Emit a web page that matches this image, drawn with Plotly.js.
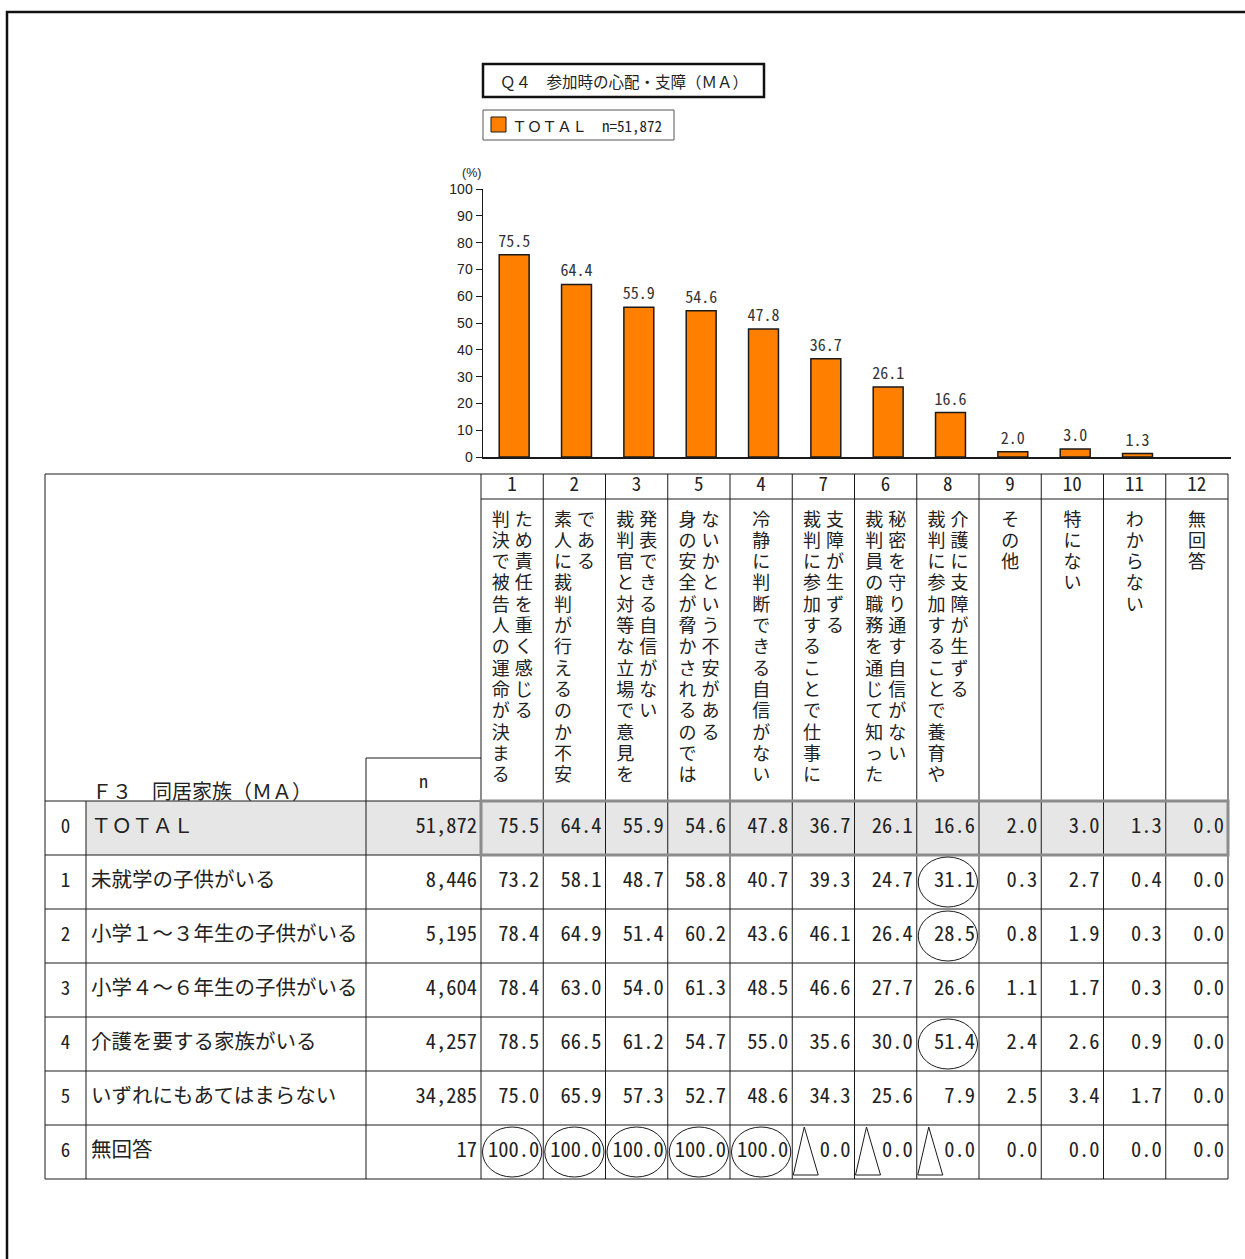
<!DOCTYPE html>
<html>
<head>
<meta charset="utf-8">
<script src="https://cdn.plot.ly/plotly-3.0.1.min.js"></script>
<style>
  html, body { margin: 0; padding: 0; background: #fff; }
  #chart { width: 1245px; height: 1259px; }
</style>
</head>
<body>
<div id="chart"></div>
<script>
// ---- Data -------------------------------------------------------------
const chartTitle = 'Ｑ４　参加時の心配・支障（ＭＡ）';
const seriesName = 'ＴＯＴＡＬ';
const crossTitle = 'Ｆ３　同居家族（ＭＡ）';

// response columns, ordered by TOTAL share
const colNumbers = ['1', '2', '3', '5', '4', '7', '6', '8', '9', '10', '11', '12'];
const colHeaders = [
  ['判決で被告人の運命が決まる', 'ため責任を重く感じる'],
  ['素人に裁判が行えるのか不安', 'である'],
  ['裁判官と対等な立場で意見を', '発表できる自信がない'],
  ['身の安全が脅かされるのでは', 'ないかという不安がある'],
  ['冷静に判断できる自信がない'],
  ['裁判に参加することで仕事に', '支障が生ずる'],
  ['裁判員の職務を通じて知った', '秘密を守り通す自信がない'],
  ['裁判に参加することで養育や', '介護に支障が生ずる'],
  ['その他'],
  ['特にない'],
  ['わからない'],
  ['無回答']
];
const totalValues = [75.5, 64.4, 55.9, 54.6, 47.8, 36.7, 26.1, 16.6, 2.0, 3.0, 1.3, 0.0];
const totalN = '51,872';

// cross-tab rows (F3)
const groupLabels = [
  '未就学の子供がいる',
  '小学１～３年生の子供がいる',
  '小学４～６年生の子供がいる',
  '介護を要する家族がいる',
  'いずれにもあてはまらない',
  '無回答'
];
const groupN = ['8,446', '5,195', '4,604', '4,257', '34,285', '17'];
const groupValues = [
  [73.2, 58.1, 48.7, 58.8, 40.7, 39.3, 24.7, 31.1, 0.3, 2.7, 0.4, 0.0],
  [78.4, 64.9, 51.4, 60.2, 43.6, 46.1, 26.4, 28.5, 0.8, 1.9, 0.3, 0.0],
  [78.4, 63.0, 54.0, 61.3, 48.5, 46.6, 27.7, 26.6, 1.1, 1.7, 0.3, 0.0],
  [78.5, 66.5, 61.2, 54.7, 55.0, 35.6, 30.0, 51.4, 2.4, 2.6, 0.9, 0.0],
  [75.0, 65.9, 57.3, 52.7, 48.6, 34.3, 25.6, 7.9, 2.5, 3.4, 1.7, 0.0],
  [100.0, 100.0, 100.0, 100.0, 100.0, 0.0, 0.0, 0.0, 0.0, 0.0, 0.0, 0.0]
];
// 'o' = notably above TOTAL, '^' = notably below TOTAL
const groupMarks = [
  ['', '', '', '', '', '', '', 'o', '', '', '', ''],
  ['', '', '', '', '', '', '', 'o', '', '', '', ''],
  ['', '', '', '', '', '', '', '', '', '', '', ''],
  ['', '', '', '', '', '', '', 'o', '', '', '', ''],
  ['', '', '', '', '', '', '', '', '', '', '', ''],
  ['o', 'o', 'o', 'o', 'o', '^', '^', '^', '', '', '', '']
];

// ---- Styling / geometry ------------------------------------------------
const W = 1245, H = 1259;
const FONT_JP = '"Noto Sans CJK JP", "Noto Sans", sans-serif';
const FONT_MONO = '"Noto Sans Mono CJK JP", "Noto Sans CJK JP", "Liberation Mono", monospace';
const FONT_TICK = '"Liberation Sans", Arial, sans-serif';
const ORANGE = '#FF8000';
const INK = '#1a1a1a';
const TXT = '#222';

// bar chart plot area (px)
const AX_L = 483, AX_R = 1231, AX_B = 457, AX_T = 189;
// table geometry (px)
const TB_L = 45, TB_R = 1228, COL_NUM_R = 86, COL_LAB_R = 366, COL_DATA_L = 481;
const NCOL = colNumbers.length;
const COL_W = (TB_R - COL_DATA_L) / NCOL;
const TB_TOP = 474, NUMROW_B = 499, NBOX_T = 758, BODY_T = 801, ROW_H = 54;
const HEAD_CHAR0 = 521, CHAR_PITCH = 21.3, LINE_GAP = 11.5;

const P = px => px / W;            // paper x
const Q = py => 1 - py / H;        // paper y
const ux = px => (px - COL_DATA_L) / COL_W - 0.5;   // table column units
const vy = py => (py - BODY_T) / ROW_H;             // table row units

const rowIds = ['0'].concat(groupLabels.map((_, i) => String(i + 1)));
const rowLabels = [seriesName].concat(groupLabels);
const rowN = [totalN].concat(groupN);
const rowValues = [totalValues].concat(groupValues);
const rowMarks = [totalValues.map(() => '')].concat(groupMarks);
const NROW = rowValues.length;

// ---- Traces ------------------------------------------------------------
const traces = [];

traces.push({
  type: 'bar',
  name: seriesName,
  x: colNumbers,
  y: totalValues,
  width: 0.48,
  marker: {
    color: ORANGE,
    line: { color: INK, width: totalValues.map(v => (v > 0 ? 1.5 : 0)) }
  },
  text: totalValues.map(v => (v > 0 ? v.toFixed(1) : '')),
  textposition: 'outside',
  constraintext: 'none',
  cliponaxis: false,
  textfont: { family: FONT_MONO, size: 16, color: '#333' },
  xaxis: 'x', yaxis: 'y',
  showlegend: false
});

function textTrace(xs, ys, texts, pos, font) {
  return {
    type: 'scatter', mode: 'text', x: xs, y: ys, text: texts,
    textposition: pos, textfont: font, cliponaxis: false,
    xaxis: 'x2', yaxis: 'y2', showlegend: false, hoverinfo: 'skip'
  };
}

// header: column numbers
traces.push(textTrace(
  colNumbers.map((_, i) => i),
  colNumbers.map(() => vy((TB_TOP + NUMROW_B) / 2)),
  colNumbers, 'middle center',
  { family: FONT_MONO, size: 19, color: TXT }
));

// header captions, set vertically: one glyph per point, lines run left to right
(function () {
  const xs = [], ys = [], ts = [];
  colHeaders.forEach((lines, i) => {
    lines.forEach((line, j) => {
      const off = lines.length === 1 ? 0 : (j === 0 ? -LINE_GAP : LINE_GAP) / COL_W;
      Array.from(line).forEach((ch, k) => {
        xs.push(i + off);
        ys.push(vy(HEAD_CHAR0 + k * CHAR_PITCH));
        ts.push(ch);
      });
    });
  });
  traces.push(textTrace(xs, ys, ts, 'middle center', { family: FONT_JP, size: 18, color: TXT }));
})();

// row ids
traces.push(textTrace(
  rowIds.map(() => ux((TB_L + COL_NUM_R) / 2)),
  rowIds.map((_, r) => r + 0.5),
  rowIds, 'middle center',
  { family: FONT_MONO, size: 19, color: TXT }
));
// row labels
traces.push(textTrace(
  rowLabels.map(() => ux(COL_NUM_R + 5)),
  rowLabels.map((_, r) => r + 0.5),
  rowLabels, 'middle right',
  { family: FONT_JP, size: 20.5, color: TXT }
));
// n
traces.push(textTrace(
  rowN.map(() => ux(COL_DATA_L - 4)),
  rowN.map((_, r) => r + 0.5),
  rowN, 'middle left',
  { family: FONT_MONO, size: 20.5, color: TXT }
));
// percentages
(function () {
  const xs = [], ys = [], ts = [];
  rowValues.forEach((vals, r) => {
    vals.forEach((v, i) => {
      xs.push(i + 0.5 - 4 / COL_W);
      ys.push(r + 0.5);
      ts.push(v.toFixed(1));
    });
  });
  traces.push(textTrace(xs, ys, ts, 'middle left', { family: FONT_MONO, size: 20.5, color: TXT }));
})();

// ---- Shapes ------------------------------------------------------------
const shapes = [];
const tline = (x0, y0, x1, y1, color, width) => shapes.push({
  type: 'line', xref: 'x2', yref: 'y2', x0, y0, x1, y1,
  line: { color: color || INK, width: width || 1 }
});

// page frame
shapes.push({ type: 'rect', xref: 'paper', yref: 'paper',
  x0: P(7), x1: 1.05, y0: -0.05, y1: Q(12), line: { color: '#111', width: 2.5 } });
// title box
shapes.push({ type: 'rect', xref: 'paper', yref: 'paper',
  x0: P(483), x1: P(764), y0: Q(97), y1: Q(64), line: { color: '#111', width: 2.5 } });
// legend box + key
shapes.push({ type: 'rect', xref: 'paper', yref: 'paper',
  x0: P(483), x1: P(674), y0: Q(140), y1: Q(110), line: { color: '#555', width: 1 } });
shapes.push({ type: 'rect', xref: 'paper', yref: 'paper',
  x0: P(491), x1: P(506), y0: Q(132), y1: Q(117), fillcolor: ORANGE, line: { color: INK, width: 1 } });

// TOTAL row shading
shapes.push({ type: 'rect', xref: 'x2', yref: 'y2', layer: 'below',
  x0: ux(COL_NUM_R), x1: ux(TB_R), y0: 0, y1: 1, fillcolor: '#e6e6e6', line: { width: 0 } });

// grid
tline(ux(TB_L), vy(TB_TOP), ux(TB_R), vy(TB_TOP));
tline(-0.5, vy(NUMROW_B), NCOL - 0.5, vy(NUMROW_B));
tline(ux(COL_LAB_R), vy(NBOX_T), -0.5, vy(NBOX_T));
for (let r = 0; r <= NROW; r++) tline(ux(TB_L), r, ux(TB_R), r);
tline(ux(TB_L), vy(TB_TOP), ux(TB_L), NROW);
tline(ux(COL_NUM_R), 0, ux(COL_NUM_R), NROW);
tline(ux(COL_LAB_R), vy(NBOX_T), ux(COL_LAB_R), NROW);
for (let i = 0; i <= NCOL; i++) tline(i - 0.5, vy(TB_TOP), i - 0.5, NROW);

// TOTAL data frame
shapes.push({ type: 'rect', xref: 'x2', yref: 'y2',
  x0: -0.5, x1: NCOL - 0.5, y0: 0, y1: 1, line: { color: '#8c8c8c', width: 3 } });

// significance marks
rowMarks.forEach((marks, r) => {
  marks.forEach((m, i) => {
    if (m === 'o') {
      shapes.push({ type: 'circle', xref: 'x2', yref: 'y2',
        x0: i - 0.5 + 1.5 / COL_W, x1: i + 0.5 - 1.5 / COL_W,
        y0: r + 2 / ROW_H, y1: r + 1 - 2 / ROW_H,
        line: { color: INK, width: 1 } });
    } else if (m === '^') {
      const L = i - 0.5;
      shapes.push({ type: 'path', xref: 'x2', yref: 'y2',
        path: `M ${L + 1 / COL_W},${r + 1 - 4 / ROW_H} L ${L + 12 / COL_W},${r + 2 / ROW_H} L ${L + 26 / COL_W},${r + 1 - 4 / ROW_H} Z`,
        line: { color: INK, width: 1 } });
    }
  });
});

// ---- Annotations -------------------------------------------------------
const annotations = [
  { xref: 'paper', yref: 'paper', x: P(623.5), y: Q(81), xanchor: 'center', yanchor: 'middle',
    text: chartTitle, showarrow: false, font: { family: FONT_MONO, size: 15.5, color: TXT } },
  { xref: 'paper', yref: 'paper', x: P(510), y: Q(125), xanchor: 'left', yanchor: 'middle',
    text: seriesName + '　n=' + totalN, showarrow: false, font: { family: FONT_MONO, size: 15, color: TXT } },
  { xref: 'paper', yref: 'paper', x: P(471), y: Q(173), xanchor: 'center', yanchor: 'middle',
    text: '(%)', showarrow: false, font: { family: FONT_TICK, size: 12.5, color: TXT } },
  { xref: 'x2', yref: 'y2', x: ux(COL_NUM_R + 4), y: vy(790), xanchor: 'left', yanchor: 'middle',
    text: crossTitle, showarrow: false, font: { family: FONT_JP, size: 20, color: TXT } },
  { xref: 'x2', yref: 'y2', x: ux((COL_LAB_R + COL_DATA_L) / 2), y: vy(780), xanchor: 'center', yanchor: 'middle',
    text: 'n', showarrow: false, font: { family: FONT_MONO, size: 18, color: TXT } }
];

// ---- Layout ------------------------------------------------------------
const layout = {
  width: W, height: H,
  margin: { l: 0, r: 0, t: 0, b: 0, pad: 0 },
  paper_bgcolor: '#fff', plot_bgcolor: 'rgba(0,0,0,0)',
  showlegend: false,
  xaxis: {
    type: 'category', domain: [P(AX_L), P(AX_R)], range: [-0.5, NCOL - 0.5],
    showline: true, linecolor: INK, linewidth: 2, showticklabels: false,
    ticks: '', showgrid: false, zeroline: false, fixedrange: true, anchor: 'y'
  },
  yaxis: {
    domain: [Q(AX_B), Q(AX_T)], range: [0, 100], dtick: 10, tick0: 0,
    ticks: 'outside', ticklen: 6, tickwidth: 1, tickcolor: INK,
    showline: true, linecolor: INK, linewidth: 1.5, showgrid: false, zeroline: false,
    tickfont: { family: FONT_TICK, size: 14, color: TXT }, fixedrange: true, anchor: 'x'
  },
  xaxis2: { domain: [0, 1], range: [ux(0), ux(W)], visible: false, anchor: 'y2', fixedrange: true },
  yaxis2: { domain: [0, 1], range: [vy(H), vy(0)], visible: false, anchor: 'x2', fixedrange: true },
  shapes, annotations
};

Plotly.newPlot('chart', traces, layout, { staticPlot: true, displayModeBar: false });
</script>
</body>
</html>
